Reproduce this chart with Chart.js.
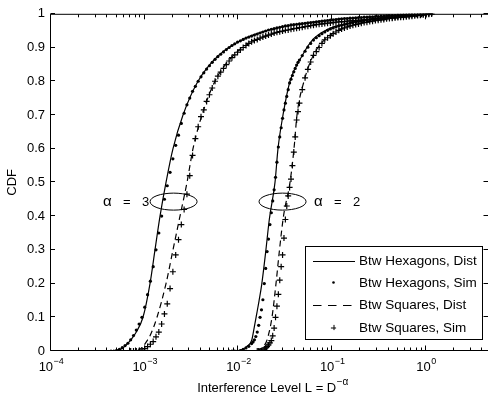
<!DOCTYPE html>
<html>
<head>
<meta charset="utf-8">
<script src="https://cdn.jsdelivr.net/npm/chart.js@4.4.0/dist/chart.umd.min.js"></script>
<style>
  html, body { margin: 0; padding: 0; background: #fff; }
  #wrap { width: 488px; height: 403px; }
</style>
</head>
<body>
<div id="wrap"><canvas id="cdfChart" width="488" height="403"></canvas></div>
<script>
// ---------------- values -------------------------------------
// analytic curves: interference level L and CDF
const hexDist3L = [4.817e-4, 5.312e-4, 6.007e-4, 6.962e-4, 8.068e-4, 9.58e-4, 1.138e-3, 1.286e-3, 1.455e-3, 1.686e-3,
    2.001e-3, 2.559e-3, 3.698e-3, 6.045e-3, 1.117e-2, 2.168e-2, 4.875e-2, 0.1210, 0.3231, 1.188];
const hexDist3Cdf = [0, 0.003, 0.012, 0.03, 0.055, 0.1, 0.2, 0.3, 0.4, 0.5,
    0.6, 0.7, 0.8, 0.875, 0.924, 0.953, 0.971, 0.985, 0.992, 1];

const sqDist3L = [8.267e-4, 9.347e-4, 1.057e-3, 1.138e-3, 1.351e-3, 1.686e-3, 2.001e-3, 2.377e-3, 2.823e-3, 3.271e-3,
    4.080e-3, 5.614e-3, 8.736e-3, 1.575e-2, 3.542e-2, 7.967e-2, 0.1837, 0.4906, 1.188];
const sqDist3Cdf = [0, 0.01, 0.03, 0.045, 0.1, 0.2, 0.3, 0.4, 0.5, 0.6,
    0.7, 0.8, 0.875, 0.924, 0.953, 0.971, 0.98, 0.99, 1];

const hexDist2L = [9.879e-3, 1.090e-2, 1.223e-2, 1.383e-2, 1.474e-2, 1.564e-2, 1.655e-2, 1.768e-2, 1.950e-2, 2.131e-2,
    2.451e-2, 2.638e-2, 2.984e-2, 3.542e-2, 4.756e-2, 6.232e-2, 8.790e-2, 0.1437, 0.2721, 0.5281, 1.188];
const hexDist2Cdf = [0, 0.004, 0.013, 0.032, 0.071, 0.11, 0.148, 0.197, 0.294, 0.39,
    0.5, 0.6, 0.7, 0.8, 0.875, 0.924, 0.953, 0.971, 0.985, 0.992, 1];

const sqDist2L = [1.564e-2, 1.781e-2, 1.965e-2, 2.079e-2, 2.277e-2, 2.512e-2, 2.737e-2, 3.020e-2, 3.542e-2, 3.908e-2,
    4.207e-2, 4.996e-2, 6.233e-2, 8.370e-2, 0.1210, 0.1977, 0.3837, 0.6750, 1.188];
const sqDist2Cdf = [0, 0.01, 0.025, 0.046, 0.1, 0.2, 0.3, 0.4, 0.5, 0.6,
    0.7, 0.8, 0.875, 0.924, 0.953, 0.971, 0.985, 0.992, 1];

// simulated points, alpha = 3 (levels shared by both sims)
const simL3 = [4.365e-4, 4.677e-4, 5.012e-4, 5.370e-4, 5.754e-4, 6.166e-4, 6.607e-4, 7.079e-4, 7.586e-4, 8.128e-4,
    8.710e-4, 9.333e-4, 1.000e-3, 1.072e-3, 1.148e-3, 1.230e-3, 1.318e-3, 1.413e-3, 1.514e-3, 1.622e-3,
    1.738e-3, 1.862e-3, 1.995e-3, 2.138e-3, 2.291e-3, 2.455e-3, 2.630e-3, 2.818e-3, 3.020e-3, 3.236e-3,
    3.467e-3, 3.715e-3, 3.981e-3, 4.266e-3, 4.571e-3, 4.898e-3, 5.248e-3, 5.623e-3, 6.026e-3, 6.457e-3,
    6.918e-3, 7.413e-3, 7.943e-3, 8.511e-3, 9.120e-3, 9.772e-3, 1.047e-2, 1.122e-2, 1.202e-2, 1.288e-2,
    1.380e-2, 1.479e-2, 1.585e-2, 1.698e-2, 1.820e-2, 1.950e-2, 2.089e-2, 2.239e-2, 2.399e-2, 2.570e-2,
    2.754e-2, 2.951e-2, 3.162e-2, 3.388e-2, 3.631e-2, 3.890e-2, 4.169e-2, 4.467e-2, 4.786e-2, 5.129e-2,
    5.495e-2, 5.888e-2, 6.310e-2, 6.761e-2, 7.244e-2, 7.762e-2, 8.318e-2, 8.913e-2, 9.550e-2, 0.1023,
    0.1096, 0.1175, 0.1259, 0.1349, 0.1445, 0.1549, 0.1660, 0.1778, 0.1905, 0.2042,
    0.2188, 0.2344, 0.2512, 0.2692, 0.2884, 0.3090, 0.3311, 0.3548, 0.3802, 0.4074,
    0.4365, 0.4677, 0.5012, 0.5370, 0.5754, 0.6166, 0.6607, 0.7079, 0.7586, 0.8128,
    0.8710, 0.9333, 1.000, 1.072, 1.148];
const hexSim3Cdf = [0, 0, 0.002, 0.005, 0.010, 0.016, 0.023, 0.033, 0.046, 0.062,
    0.08, 0.1, 0.13, 0.167, 0.207, 0.25, 0.3, 0.35, 0.4, 0.45,
    0.49, 0.53, 0.57, 0.61, 0.64, 0.675, 0.705, 0.73, 0.75, 0.77,
    0.785, 0.8, 0.813, 0.825, 0.836, 0.846, 0.856, 0.865, 0.873, 0.88,
    0.887, 0.894, 0.9, 0.906, 0.911, 0.916, 0.92, 0.924, 0.928, 0.931,
    0.934, 0.937, 0.94, 0.943, 0.946, 0.949, 0.952, 0.954, 0.956, 0.958,
    0.96, 0.962, 0.964, 0.965, 0.967, 0.968, 0.969, 0.97, 0.971, 0.972,
    0.973, 0.974, 0.975, 0.976, 0.977, 0.978, 0.979, 0.98, 0.981, 0.982,
    0.983, 0.984, 0.985, 0.986, 0.986, 0.987, 0.987, 0.988, 0.989, 0.989,
    0.99, 0.99, 0.991, 0.991, 0.992, 0.992, 0.993, 0.993, 0.994, 0.994,
    0.995, 0.995, 0.996, 0.996, 0.997, 0.997, 0.998, 0.998, 0.998, 0.999,
    0.999, 0.999, 1, 1, 1];
const sqSim3Cdf = [null, null, null, null, null, null, null, 0, 0, 0,
    0.001, 0.003, 0.007, 0.013, 0.02, 0.028, 0.042, 0.056, 0.08, 0.11,
    0.14, 0.185, 0.235, 0.285, 0.33, 0.375, 0.42, 0.465, 0.52, 0.58,
    0.63, 0.665, 0.695, 0.715, 0.74, 0.76, 0.78, 0.8, 0.815, 0.827,
    0.838, 0.849, 0.86, 0.87, 0.878, 0.886, 0.893, 0.9, 0.906, 0.912,
    0.917, 0.921, 0.924, 0.928, 0.931, 0.934, 0.937, 0.94, 0.943, 0.945,
    0.947, 0.949, 0.951, 0.952, 0.954, 0.956, 0.957, 0.959, 0.96, 0.962,
    0.963, 0.965, 0.966, 0.968, 0.969, 0.97, 0.971, 0.972, 0.973, 0.974,
    0.975, 0.976, 0.977, 0.977, 0.978, 0.979, 0.979, 0.98, 0.981, 0.981,
    0.982, 0.983, 0.984, 0.984, 0.985, 0.986, 0.987, 0.987, 0.988, 0.989,
    0.989, 0.99, 0.991, 0.992, 0.993, 0.994, 0.995, 0.996, 0.997, 0.997,
    0.998, 0.999, 0.999, 1, 1];

// simulated points, alpha = 2 (finer spacing where the curves are steep)
const simL2 = [7.943e-3, 8.511e-3, 9.120e-3, 9.772e-3, 1.047e-2, 1.122e-2, 1.202e-2, 1.288e-2, 1.380e-2, 1.429e-2,
    1.479e-2, 1.531e-2, 1.585e-2, 1.641e-2, 1.698e-2, 1.758e-2, 1.820e-2, 1.884e-2, 1.950e-2, 2.018e-2,
    2.089e-2, 2.163e-2, 2.239e-2, 2.317e-2, 2.399e-2, 2.483e-2, 2.570e-2, 2.661e-2, 2.754e-2, 2.851e-2,
    2.951e-2, 3.055e-2, 3.162e-2, 3.273e-2, 3.388e-2, 3.508e-2, 3.631e-2, 3.758e-2, 3.890e-2, 4.027e-2,
    4.169e-2, 4.315e-2, 4.467e-2, 4.786e-2, 5.129e-2, 5.495e-2, 5.888e-2, 6.310e-2, 6.761e-2, 7.244e-2,
    7.762e-2, 8.318e-2, 8.913e-2, 9.550e-2, 0.1023, 0.1096, 0.1175, 0.1259, 0.1349, 0.1445,
    0.1549, 0.1660, 0.1778, 0.1905, 0.2042, 0.2188, 0.2344, 0.2512, 0.2692, 0.2884,
    0.3090, 0.3311, 0.3548, 0.3802, 0.4074, 0.4365, 0.4677, 0.5012, 0.5370, 0.5754,
    0.6166, 0.6607, 0.7079, 0.7586, 0.8128, 0.8710, 0.9333, 1.000, 1.072, 1.148];
const hexSim2Cdf = [0, 0, 0, 0, 0.001, 0.005, 0.009, 0.014, 0.022, 0.027,
    0.033, 0.043, 0.056, 0.076, 0.1, 0.122, 0.152, 0.2, 0.245, 0.295,
    0.332, 0.375, 0.41, 0.445, 0.478, 0.515, 0.56, 0.605, 0.635, 0.662,
    0.69, 0.715, 0.735, 0.755, 0.775, 0.795, 0.806, 0.817, 0.828, 0.838,
    0.848, 0.856, 0.863, 0.876, 0.889, 0.901, 0.912, 0.922, 0.929, 0.935,
    0.941, 0.946, 0.951, 0.955, 0.958, 0.961, 0.964, 0.966, 0.968, 0.97,
    0.972, 0.974, 0.976, 0.977, 0.978, 0.98, 0.981, 0.982, 0.984, 0.985,
    0.986, 0.987, 0.987, 0.988, 0.989, 0.99, 0.99, 0.991, 0.992, 0.993,
    0.994, 0.995, 0.996, 0.996, 0.997, 0.998, 0.998, 0.999, 1, 1];
const sqSim2Cdf = [null, null, null, null, null, null, null, null, null, null,
    null, null, 0, 0, 0, 0.001, 0.003, 0.006, 0.009, 0.013,
    0.018, 0.024, 0.031, 0.045, 0.068, 0.1, 0.133, 0.168, 0.21, 0.25,
    0.285, 0.335, 0.39, 0.43, 0.46, 0.485, 0.51, 0.55, 0.59, 0.635,
    0.685, 0.71, 0.735, 0.775, 0.81, 0.835, 0.857, 0.877, 0.888, 0.9,
    0.912, 0.923, 0.929, 0.935, 0.941, 0.946, 0.951, 0.955, 0.958, 0.961,
    0.964, 0.966, 0.968, 0.97, 0.972, 0.974, 0.975, 0.977, 0.978, 0.98,
    0.981, 0.982, 0.983, 0.985, 0.986, 0.987, 0.988, 0.989, 0.99, 0.99,
    0.991, 0.992, 0.993, 0.994, 0.995, 0.996, 0.997, 0.998, 0.999, 1];

// axes
const xMin = 1e-4;
const xMax = 4.585;
const xTickValues = [1e-4, 1e-3, 1e-2, 1e-1, 1];
const xTickExponents = ['\u22124', '\u22123', '\u22122', '\u22121', '0'];
const legendLabels = ['Btw Hexagons, Dist', 'Btw Hexagons, Sim', 'Btw Squares, Dist', 'Btw Squares, Sim'];

// ovals marking the two path-loss exponents
const ovalCenters = [2.03e-3, 2.95e-2];
const ovalCdf = 0.443;
const ovalLabels = ['3', '2'];

const FONT = '"Liberation Sans", Arial, Helvetica, sans-serif';

function pairs(xs, ys) {
    const out = [];
    xs.forEach((v, i) => {
        if (ys[i] !== null && ys[i] !== undefined) out.push({ x: v, y: ys[i] });
    });
    return out;
}

const distStyle = {
    showLine: true,
    borderColor: '#000',
    borderWidth: 1.2,
    pointRadius: 0,
    cubicInterpolationMode: 'monotone'
};
const dotStyle = {
    showLine: false,
    pointStyle: 'circle',
    pointRadius: 1.6,
    pointBorderWidth: 0,
    pointBackgroundColor: '#000'
};
const plusStyle = {
    showLine: false,
    pointStyle: 'cross',
    pointRadius: 3,
    pointBorderWidth: 1.2,
    pointBorderColor: '#000'
};

const datasets = [
    { label: legendLabels[0], data: pairs(hexDist3L, hexDist3Cdf), ...distStyle },
    { label: legendLabels[0], data: pairs(hexDist2L, hexDist2Cdf), ...distStyle },
    { label: legendLabels[1], data: pairs(simL3, hexSim3Cdf), ...dotStyle },
    { label: legendLabels[1], data: pairs(simL2, hexSim2Cdf), ...dotStyle },
    { label: legendLabels[2], data: pairs(sqDist3L, sqDist3Cdf), ...distStyle, borderDash: [6, 4] },
    { label: legendLabels[2], data: pairs(sqDist2L, sqDist2Cdf), ...distStyle, borderDash: [6, 4] },
    { label: legendLabels[3], data: pairs(simL3, sqSim3Cdf), ...plusStyle },
    { label: legendLabels[3], data: pairs(simL2, sqSim2Cdf), ...plusStyle }
];

// frame, inward ticks, log tick labels, axis title, ovals and legend box
const figureDecor = {
    id: 'figureDecor',
    afterDatasetsDraw(chart) {
        const { ctx, chartArea: a, scales: { x, y } } = chart;
        ctx.save();
        ctx.strokeStyle = '#000';
        ctx.fillStyle = '#000';
        ctx.lineWidth = 1;
        ctx.setLineDash([]);

        // frame (right edge falls just outside the picture)
        const L = a.left - 0.5, B = a.bottom - 0.5, T = a.top + 0.5;
        ctx.beginPath();
        ctx.moveTo(a.right, T); ctx.lineTo(L, T); ctx.lineTo(L, B); ctx.lineTo(a.right, B);
        ctx.stroke();

        // y ticks, both sides
        ctx.beginPath();
        for (let v = 0; v <= 1.0001; v += 0.1) {
            const py = Math.round(y.getPixelForValue(v)) - 0.5;
            ctx.moveTo(L, py); ctx.lineTo(L + 4.5, py);
            ctx.moveTo(a.right, py); ctx.lineTo(a.right - 4.5, py);
        }
        // x ticks, top and bottom
        xTickValues.forEach(dec => {
            for (let k = 1; k <= 9; k++) {
                const v = dec * k;
                if (v > xMax) break;
                const px = Math.round(x.getPixelForValue(v)) - 0.5;
                const len = k === 1 ? 5 : 3;
                ctx.moveTo(px, B); ctx.lineTo(px, B - len);
                ctx.moveTo(px, T); ctx.lineTo(px, T + len);
            }
        });
        ctx.stroke();

        // x tick labels 10^n
        xTickValues.forEach((v, i) => {
            const px = x.getPixelForValue(v);
            ctx.font = '13px ' + FONT;
            const wBase = ctx.measureText('10').width;
            ctx.font = '9px ' + FONT;
            const wExp = ctx.measureText(xTickExponents[i]).width;
            const start = px - (wBase + wExp) / 2;
            ctx.textAlign = 'left';
            ctx.textBaseline = 'alphabetic';
            ctx.font = '13px ' + FONT;
            ctx.fillText('10', start, 371);
            ctx.font = '9px ' + FONT;
            ctx.fillText(xTickExponents[i], start + wBase + 0.5, 364);
        });

        // x axis title with superscript
        const mainTitle = 'Interference Level L = D';
        const supTitle = '\u2212\u03b1';
        ctx.font = '13px ' + FONT;
        const wMain = ctx.measureText(mainTitle).width;
        ctx.font = '10px ' + FONT;
        const wSup = ctx.measureText(supTitle).width;
        const tx = (a.left + a.right) / 2 + 3 - (wMain + wSup) / 2;
        ctx.font = '13px ' + FONT;
        ctx.fillText(mainTitle, tx, 392);
        ctx.font = '10px ' + FONT;
        ctx.fillText(supTitle, tx + wMain + 0.5, 385);

        // ovals and alpha labels
        ovalCenters.forEach((c, i) => {
            const cx = x.getPixelForValue(c);
            const cy = y.getPixelForValue(ovalCdf);
            ctx.beginPath();
            ctx.ellipse(cx, cy, 23.5, 8.5, 0, 0, Math.PI * 2);
            ctx.stroke();
            const x0 = i === 0 ? cx - 70.5 : cx + 31.5;
            ctx.font = '15px ' + FONT;
            ctx.fillText('\u03b1', x0, cy + 4.5);
            ctx.font = '13px ' + FONT;
            ctx.fillText('=', x0 + 20, cy + 4.5);
            ctx.fillText(ovalLabels[i], x0 + 39, cy + 4.5);
        });

        // legend box
        const lx = 305.5, ly = 246.5, lw = 177, lh = 93;
        ctx.fillStyle = '#fff';
        ctx.fillRect(lx, ly, lw, lh);
        ctx.strokeRect(lx, ly, lw, lh);
        ctx.fillStyle = '#000';
        const rows = [261, 282.5, 305, 327.5];
        const s0 = 313, s1 = 355, sm = 333.5;
        ctx.font = '13.5px ' + FONT;
        ctx.textBaseline = 'middle';
        rows.forEach((ry, i) => {
            if (i === 0 || i === 2) {
                ctx.beginPath();
                ctx.setLineDash(i === 2 ? [8.5, 6.5] : []);
                ctx.moveTo(s0, ry + 0.5); ctx.lineTo(s1, ry + 0.5);
                ctx.stroke();
                ctx.setLineDash([]);
            } else if (i === 1) {
                ctx.beginPath();
                ctx.arc(sm, ry, 1.3, 0, Math.PI * 2);
                ctx.fill();
            } else {
                ctx.beginPath();
                ctx.moveTo(sm - 2.6, ry + 0.5); ctx.lineTo(sm + 2.6, ry + 0.5);
                ctx.moveTo(sm + 0.5, ry - 2.6); ctx.lineTo(sm + 0.5, ry + 2.6);
                ctx.stroke();
            }
            ctx.fillText(legendLabels[i], 359, ry + 0.5);
        });
        ctx.restore();
    }
};

new Chart(document.getElementById('cdfChart'), {
    type: 'scatter',
    data: { datasets },
    options: {
        responsive: false,
        animation: false,
        devicePixelRatio: 1,
        events: [],
        layout: { autoPadding: false, padding: { top: 7, right: 0, bottom: 0, left: 0 } },
        plugins: {
            legend: { display: false },
            tooltip: { enabled: false }
        },
        scales: {
            x: {
                type: 'logarithmic',
                min: xMin,
                max: xMax,
                grid: { display: false, drawTicks: false },
                border: { display: false },
                ticks: { display: false },
                afterFit: scale => { scale.height = 52; }
            },
            y: {
                min: 0,
                max: 1,
                grid: { display: false, drawTicks: false },
                border: { display: false },
                ticks: {
                    stepSize: 0.1,
                    padding: 6,
                    color: '#000',
                    font: { family: FONT, size: 13 },
                    callback: v => String(Number(v.toFixed(1)))
                },
                title: {
                    display: true,
                    text: 'CDF',
                    color: '#000',
                    padding: { top: 5, bottom: 0 },
                    font: { family: FONT, size: 13 }
                },
                afterFit: scale => { scale.width = 51; }
            }
        }
    },
    plugins: [figureDecor]
});
</script>
</body>
</html>
